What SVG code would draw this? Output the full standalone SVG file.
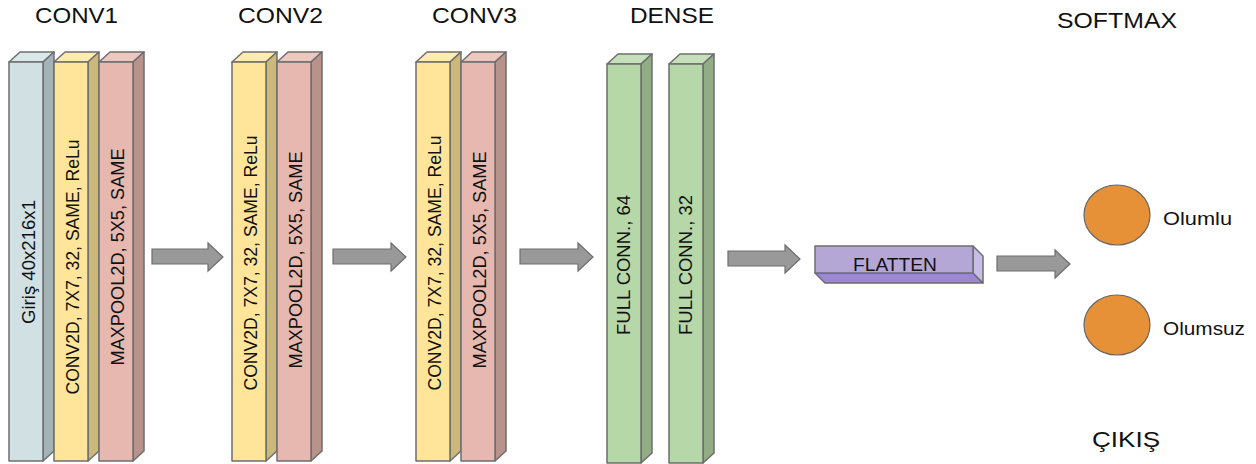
<svg xmlns="http://www.w3.org/2000/svg" width="1256" height="464" viewBox="0 0 1256 464">
  <style>
    .edge { stroke: #6e6e6e; stroke-width: 1.5; stroke-linejoin: round; }
    .title { font-family: "Liberation Sans", Arial, sans-serif; font-size: 22px; fill: #111; }
    .lbl { font-family: "Liberation Sans", Arial, sans-serif; font-size: 18px; fill: #111; text-anchor: middle; }
    .small { font-family: "Liberation Sans", Arial, sans-serif; font-size: 18px; fill: #111; }
    .blue .front { fill: #d0e0e3; } .blue .top { fill: #dbe8ea; } .blue .side { fill: #a4b3b6; }
    .yellow .front { fill: #ffe599; } .yellow .top { fill: #ffecb3; } .yellow .side { fill: #ccb879; }
    .pink .front { fill: #e6b8af; } .pink .top { fill: #edc8c1; } .pink .side { fill: #b8938c; }
    .green .front { fill: #b6d7a8; } .green .top { fill: #c6e0bb; } .green .side { fill: #92ac86; }
    .arrow { fill: #999999; stroke: #6e6e6e; stroke-width: 1.2; }
    .neuron { fill: #e69138; stroke: #666666; stroke-width: 1.2; }
  </style>

  <!-- section titles -->
  <g id="titles">
    <text class="title" x="35" y="23" textLength="83" lengthAdjust="spacingAndGlyphs">CONV1</text>
    <text class="title" x="238" y="23" textLength="85" lengthAdjust="spacingAndGlyphs">CONV2</text>
    <text class="title" x="432" y="23" textLength="85" lengthAdjust="spacingAndGlyphs">CONV3</text>
    <text class="title" x="630" y="23" textLength="84" lengthAdjust="spacingAndGlyphs">DENSE</text>
    <text class="title" x="1057" y="28" textLength="120" lengthAdjust="spacingAndGlyphs">SOFTMAX</text>
    <text class="title" x="1092" y="447" textLength="68" lengthAdjust="spacingAndGlyphs">ÇIKIŞ</text>
  </g>

  <!-- CONV1 block -->
  <g id="input" class="blue">
    <polygon class="top edge" points="9,62 20,52 54,52 43,62"/>
    <polygon class="side edge" points="43,62 54,52 54,451 43,461"/>
    <rect class="front edge" x="9" y="62" width="34" height="399"/>
    <text class="lbl" transform="translate(35,262) rotate(-90)" textLength="124" lengthAdjust="spacingAndGlyphs">Giriş 40x216x1</text>
  </g>
  <g id="conv1" class="yellow">
    <polygon class="top edge" points="54,62 65,52 99,52 88,62"/>
    <polygon class="side edge" points="88,62 99,52 99,451 88,461"/>
    <rect class="front edge" x="54" y="62" width="34" height="399"/>
    <text class="lbl" transform="translate(79,267) rotate(-90)" textLength="255" lengthAdjust="spacingAndGlyphs">CONV2D, 7X7, 32, SAME, ReLu</text>
  </g>
  <g id="pool1" class="pink">
    <polygon class="top edge" points="99,62 110,52 144,52 133,62"/>
    <polygon class="side edge" points="133,62 144,52 144,451 133,461"/>
    <rect class="front edge" x="99" y="62" width="34" height="399"/>
    <text class="lbl" transform="translate(124,257) rotate(-90)" textLength="217" lengthAdjust="spacingAndGlyphs">MAXPOOL2D, 5X5, SAME</text>
  </g>

  <!-- CONV2 block -->
  <g id="conv2" class="yellow">
    <polygon class="top edge" points="232,62 243,52 277,52 266,62"/>
    <polygon class="side edge" points="266,62 277,52 277,451 266,461"/>
    <rect class="front edge" x="232" y="62" width="34" height="399"/>
    <text class="lbl" transform="translate(257,263) rotate(-90)" textLength="255" lengthAdjust="spacingAndGlyphs">CONV2D, 7X7, 32, SAME, ReLu</text>
  </g>
  <g id="pool2" class="pink">
    <polygon class="top edge" points="277,62 288,52 322,52 311,62"/>
    <polygon class="side edge" points="311,62 322,52 322,451 311,461"/>
    <rect class="front edge" x="277" y="62" width="34" height="399"/>
    <text class="lbl" transform="translate(302,260) rotate(-90)" textLength="217" lengthAdjust="spacingAndGlyphs">MAXPOOL2D, 5X5, SAME</text>
  </g>

  <!-- CONV3 block -->
  <g id="conv3" class="yellow">
    <polygon class="top edge" points="416,62 427,52 461,52 450,62"/>
    <polygon class="side edge" points="450,62 461,52 461,451 450,461"/>
    <rect class="front edge" x="416" y="62" width="34" height="399"/>
    <text class="lbl" transform="translate(441,263) rotate(-90)" textLength="255" lengthAdjust="spacingAndGlyphs">CONV2D, 7X7, 32, SAME, ReLu</text>
  </g>
  <g id="pool3" class="pink">
    <polygon class="top edge" points="461,62 472,52 506,52 495,62"/>
    <polygon class="side edge" points="495,62 506,52 506,451 495,461"/>
    <rect class="front edge" x="461" y="62" width="34" height="399"/>
    <text class="lbl" transform="translate(486,260) rotate(-90)" textLength="217" lengthAdjust="spacingAndGlyphs">MAXPOOL2D, 5X5, SAME</text>
  </g>

  <!-- DENSE block -->
  <g id="dense1" class="green">
    <polygon class="top edge" points="607,64 618,54 652,54 641,64"/>
    <polygon class="side edge" points="641,64 652,54 652,453 641,463"/>
    <rect class="front edge" x="607" y="64" width="34" height="399"/>
    <text class="lbl" transform="translate(630,265) rotate(-90)" textLength="140" lengthAdjust="spacingAndGlyphs">FULL CONN., 64</text>
  </g>
  <g id="dense2" class="green">
    <polygon class="top edge" points="669,64 680,54 714,54 703,64"/>
    <polygon class="side edge" points="703,64 714,54 714,453 703,463"/>
    <rect class="front edge" x="669" y="64" width="34" height="399"/>
    <text class="lbl" transform="translate(692,265) rotate(-90)" textLength="140" lengthAdjust="spacingAndGlyphs">FULL CONN., 32</text>
  </g>

  <!-- FLATTEN bar -->
  <g id="flatten">
    <polygon class="edge" fill="#9a89cc" points="815,273 973,273 983,283 825,283"/>
    <polygon class="edge" fill="#c8bde6" points="973,246 983,256 983,283 973,273"/>
    <rect class="edge" fill="#b4a7d6" x="815" y="246" width="158" height="27"/>
    <text class="small" x="853" y="271" textLength="84" lengthAdjust="spacingAndGlyphs" fill="#1c1c2e">FLATTEN</text>
  </g>

  <!-- softmax outputs -->
  <g id="out-positive">
    <ellipse class="neuron" cx="1117" cy="215" rx="33" ry="30"/>
    <text class="small" x="1163" y="225" textLength="69" lengthAdjust="spacingAndGlyphs">Olumlu</text>
  </g>
  <g id="out-negative">
    <ellipse class="neuron" cx="1117" cy="325" rx="33" ry="30"/>
    <text class="small" x="1163" y="335" textLength="82" lengthAdjust="spacingAndGlyphs">Olumsuz</text>
  </g>

  <!-- block arrows between stages -->
  <g id="connectors">
    <polygon class="arrow" points="152,249 208,249 208,243 223,257 208,271 208,264 152,264"/>
    <polygon class="arrow" points="333,249 391,249 391,243 406,257 391,271 391,264 333,264"/>
    <polygon class="arrow" points="520,249 578,249 578,243 593,257 578,271 578,264 520,264"/>
    <polygon class="arrow" points="728,251 785,251 785,245 800,259 785,273 785,266 728,266"/>
    <polygon class="arrow" points="997,256 1055,256 1055,250 1070,264 1055,278 1055,271 997,271"/>
  </g>
</svg>
